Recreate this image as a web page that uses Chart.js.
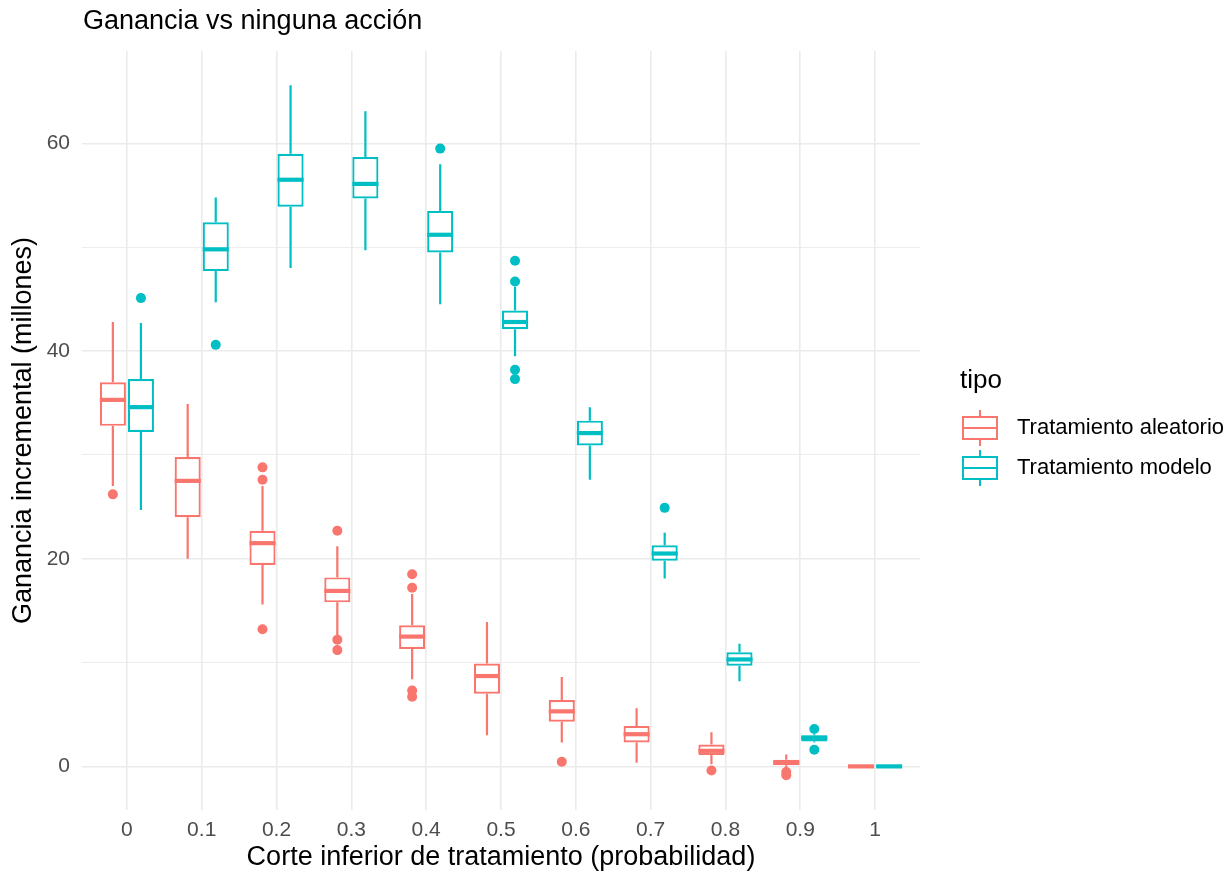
<!DOCTYPE html>
<html>
<head>
<meta charset="utf-8">
<script src="https://cdn.jsdelivr.net/npm/chart.js@4.4.1/dist/chart.umd.min.js"></script>
<style>
  body { margin: 0; background: #fff; }
  #wrap { width: 1228px; height: 875px; }
</style>
</head>
<body>
<div id="wrap"><canvas id="chart"></canvas></div>
<script>
let cats = ['0', '0.1', '0.2', '0.3', '0.4', '0.5', '0.6', '0.7', '0.8', '0.9', '1'];
let seriesNames = ['Tratamiento aleatorio', 'Tratamiento modelo'];
let seriesColors = ['#F8766D', '#00BFC4'];

// Tratamiento aleatorio
let aleLow  = [27.0, 20.0, 15.6, 12.6,  8.4,  3.0, 2.3, 0.35, 0.2, -0.2, 0];
let aleQ1   = [32.8, 24.0, 19.4, 15.8, 11.3,  7.0, 4.3, 2.3,  1.1,  0.1, 0];
let aleMed  = [35.3, 27.5, 21.5, 16.9, 12.5,  8.7, 5.3, 3.1,  1.5,  0.35, 0];
let aleQ3   = [37.0, 29.8, 22.7, 18.2, 13.6,  9.9, 6.4, 3.9,  2.1,  0.65, 0];
let aleHigh = [42.8, 34.9, 27.0, 21.2, 16.6, 13.9, 8.6, 5.6,  3.3,  1.15, 0];
let aleOut  = [[26.2], [], [28.8, 27.6, 13.2], [22.7, 12.2, 11.2], [18.5, 17.2, 7.3, 6.7], [], [0.45], [], [-0.4], [-0.55, -0.85], []];

// Tratamiento modelo
let modLow  = [24.7, 44.7, 48.0, 49.7, 44.5, 39.5, 27.6, 18.1,  8.2, 2.3, 0];
let modQ1   = [32.2, 47.7, 53.9, 54.7, 49.5, 42.1, 30.9, 19.8,  9.7, 2.4, 0];
let modMed  = [34.6, 49.8, 56.5, 56.1, 51.2, 42.8, 32.1, 20.5, 10.3, 2.75, 0];
let modQ3   = [37.3, 52.4, 59.0, 58.7, 53.5, 43.9, 33.3, 21.3, 11.0, 3.0, 0];
let modHigh = [42.7, 54.8, 65.6, 63.1, 58.0, 46.2, 34.6, 22.5, 11.8, 3.1, 0];
let modOut  = [[45.1], [40.6], [], [], [59.5], [48.7, 46.7, 38.2, 37.3], [], [24.9], [], [3.6, 1.6], []];

let yTicks = [0, 10, 20, 30, 40, 50, 60];

let stats = [
  { low: aleLow, q1: aleQ1, med: aleMed, q3: aleQ3, high: aleHigh, out: aleOut },
  { low: modLow, q1: modQ1, med: modMed, q3: modQ3, high: modHigh, out: modOut },
];

let font = "'Liberation Sans', Arial, sans-serif";

let boxPlugin = {
  id: 'boxes',
  afterDatasetsDraw(chart) {
    let ctx = chart.ctx;
    let y = chart.scales.y;
    ctx.save();
    chart.data.datasets.forEach((ds, di) => {
      let st = stats[di];
      chart.getDatasetMeta(di).data.forEach((bar, i) => {
        let cx = bar.x;
        let half = bar.width / 2;
        ctx.strokeStyle = ds.borderColor;
        ctx.fillStyle = ds.borderColor;
        ctx.lineCap = 'butt';
        ctx.lineWidth = 2.2;
        ctx.beginPath();
        ctx.moveTo(cx, y.getPixelForValue(st.high[i]));
        ctx.lineTo(cx, y.getPixelForValue(st.q3[i]));
        ctx.moveTo(cx, y.getPixelForValue(st.q1[i]));
        ctx.lineTo(cx, y.getPixelForValue(st.low[i]));
        ctx.stroke();
        ctx.lineWidth = 4.2;
        ctx.beginPath();
        ctx.moveTo(cx - half, y.getPixelForValue(st.med[i]));
        ctx.lineTo(cx + half, y.getPixelForValue(st.med[i]));
        ctx.stroke();
        st.out[i].forEach(v => {
          ctx.beginPath();
          ctx.arc(cx, y.getPixelForValue(v), 5, 0, Math.PI * 2);
          ctx.fill();
        });
      });
    });
    ctx.restore();
  },
  afterDraw(chart) {
    let ctx = chart.ctx;
    ctx.save();
    // title
    ctx.fillStyle = '#000';
    ctx.font = '27px ' + font;
    ctx.textAlign = 'left';
    ctx.textBaseline = 'middle';
    ctx.fillText('Ganancia vs ninguna acción', 83, 22);
    // legend
    ctx.font = '26px ' + font;
    ctx.fillText('tipo', 960, 381);
    ctx.font = '22px ' + font;
    seriesNames.forEach((name, k) => {
      let cy = 428 + k * 40;
      ctx.strokeStyle = seriesColors[k];
      ctx.lineWidth = 2;
      ctx.beginPath();
      ctx.moveTo(980, cy - 18); ctx.lineTo(980, cy - 11);
      ctx.moveTo(980, cy + 11); ctx.lineTo(980, cy + 18);
      ctx.moveTo(963, cy); ctx.lineTo(997, cy);
      ctx.stroke();
      ctx.strokeRect(963, cy - 11, 34, 22);
      ctx.fillStyle = '#000';
      ctx.fillText(name, 1017, cy);
    });
    ctx.restore();
  }
};

let datasets = stats.map((st, k) => ({
  label: seriesNames[k],
  data: cats.map((c, i) => ({ x: i, y: [st.q1[i], st.q3[i]] })),
  backgroundColor: '#FFFFFF',
  borderColor: seriesColors[k],
  borderWidth: 2.2,
  borderSkipped: false,
  categoryPercentage: 0.75,
  barPercentage: 0.93,
  grouped: true,
}));

new Chart(document.getElementById('chart'), {
  type: 'bar',
  data: { datasets: datasets },
  options: {
    responsive: true,
    maintainAspectRatio: false,
    animation: false,
    layout: { padding: { top: 51, right: 308, left: 0, bottom: 0 } },
    plugins: {
      legend: { display: false },
      tooltip: { enabled: false },
      title: { display: false },
    },
    scales: {
      x: {
        type: 'linear',
        min: -0.6,
        max: cats.length - 1 + 0.6,
        offset: false,
        afterBuildTicks: (axis) => { axis.ticks = cats.map((c, i) => ({ value: i })); },
        afterFit: (axis) => { axis.height = 65; },
        ticks: {
          callback: (value) => cats[value],
          color: '#4D4D4D',
          font: { family: font, size: 21 },
          padding: 8,
          maxRotation: 0,
          autoSkip: false,
        },
        grid: { color: '#EBEBEB', lineWidth: 1.6, drawTicks: false, offset: false },
        border: { display: false },
        title: {
          display: true,
          text: 'Corte inferior de tratamiento (probabilidad)',
          color: '#000',
          font: { family: font, size: 27 },
          padding: { top: 0, bottom: 1 },
        },
      },
      y: {
        min: -4.2,
        max: 68.9,
        afterBuildTicks: (axis) => { axis.ticks = yTicks.map(v => ({ value: v })); },
        afterFit: (axis) => { axis.width = 82; },
        ticks: {
          callback: (value) => (value % 20 === 0 ? value : ''),
          color: '#4D4D4D',
          font: { family: font, size: 21 },
          padding: 12,
        },
        grid: {
          color: '#EBEBEB',
          lineWidth: (c) => (c.tick && c.tick.value % 20 === 0 ? 1.6 : 0.9),
          drawTicks: false,
        },
        border: { display: false },
        title: {
          display: true,
          text: 'Ganancia incremental (millones)',
          color: '#000',
          font: { family: font, size: 27 },
          padding: { top: 7, bottom: 0 },
        },
      },
    },
  },
  plugins: [boxPlugin],
});
</script>
</body>
</html>
